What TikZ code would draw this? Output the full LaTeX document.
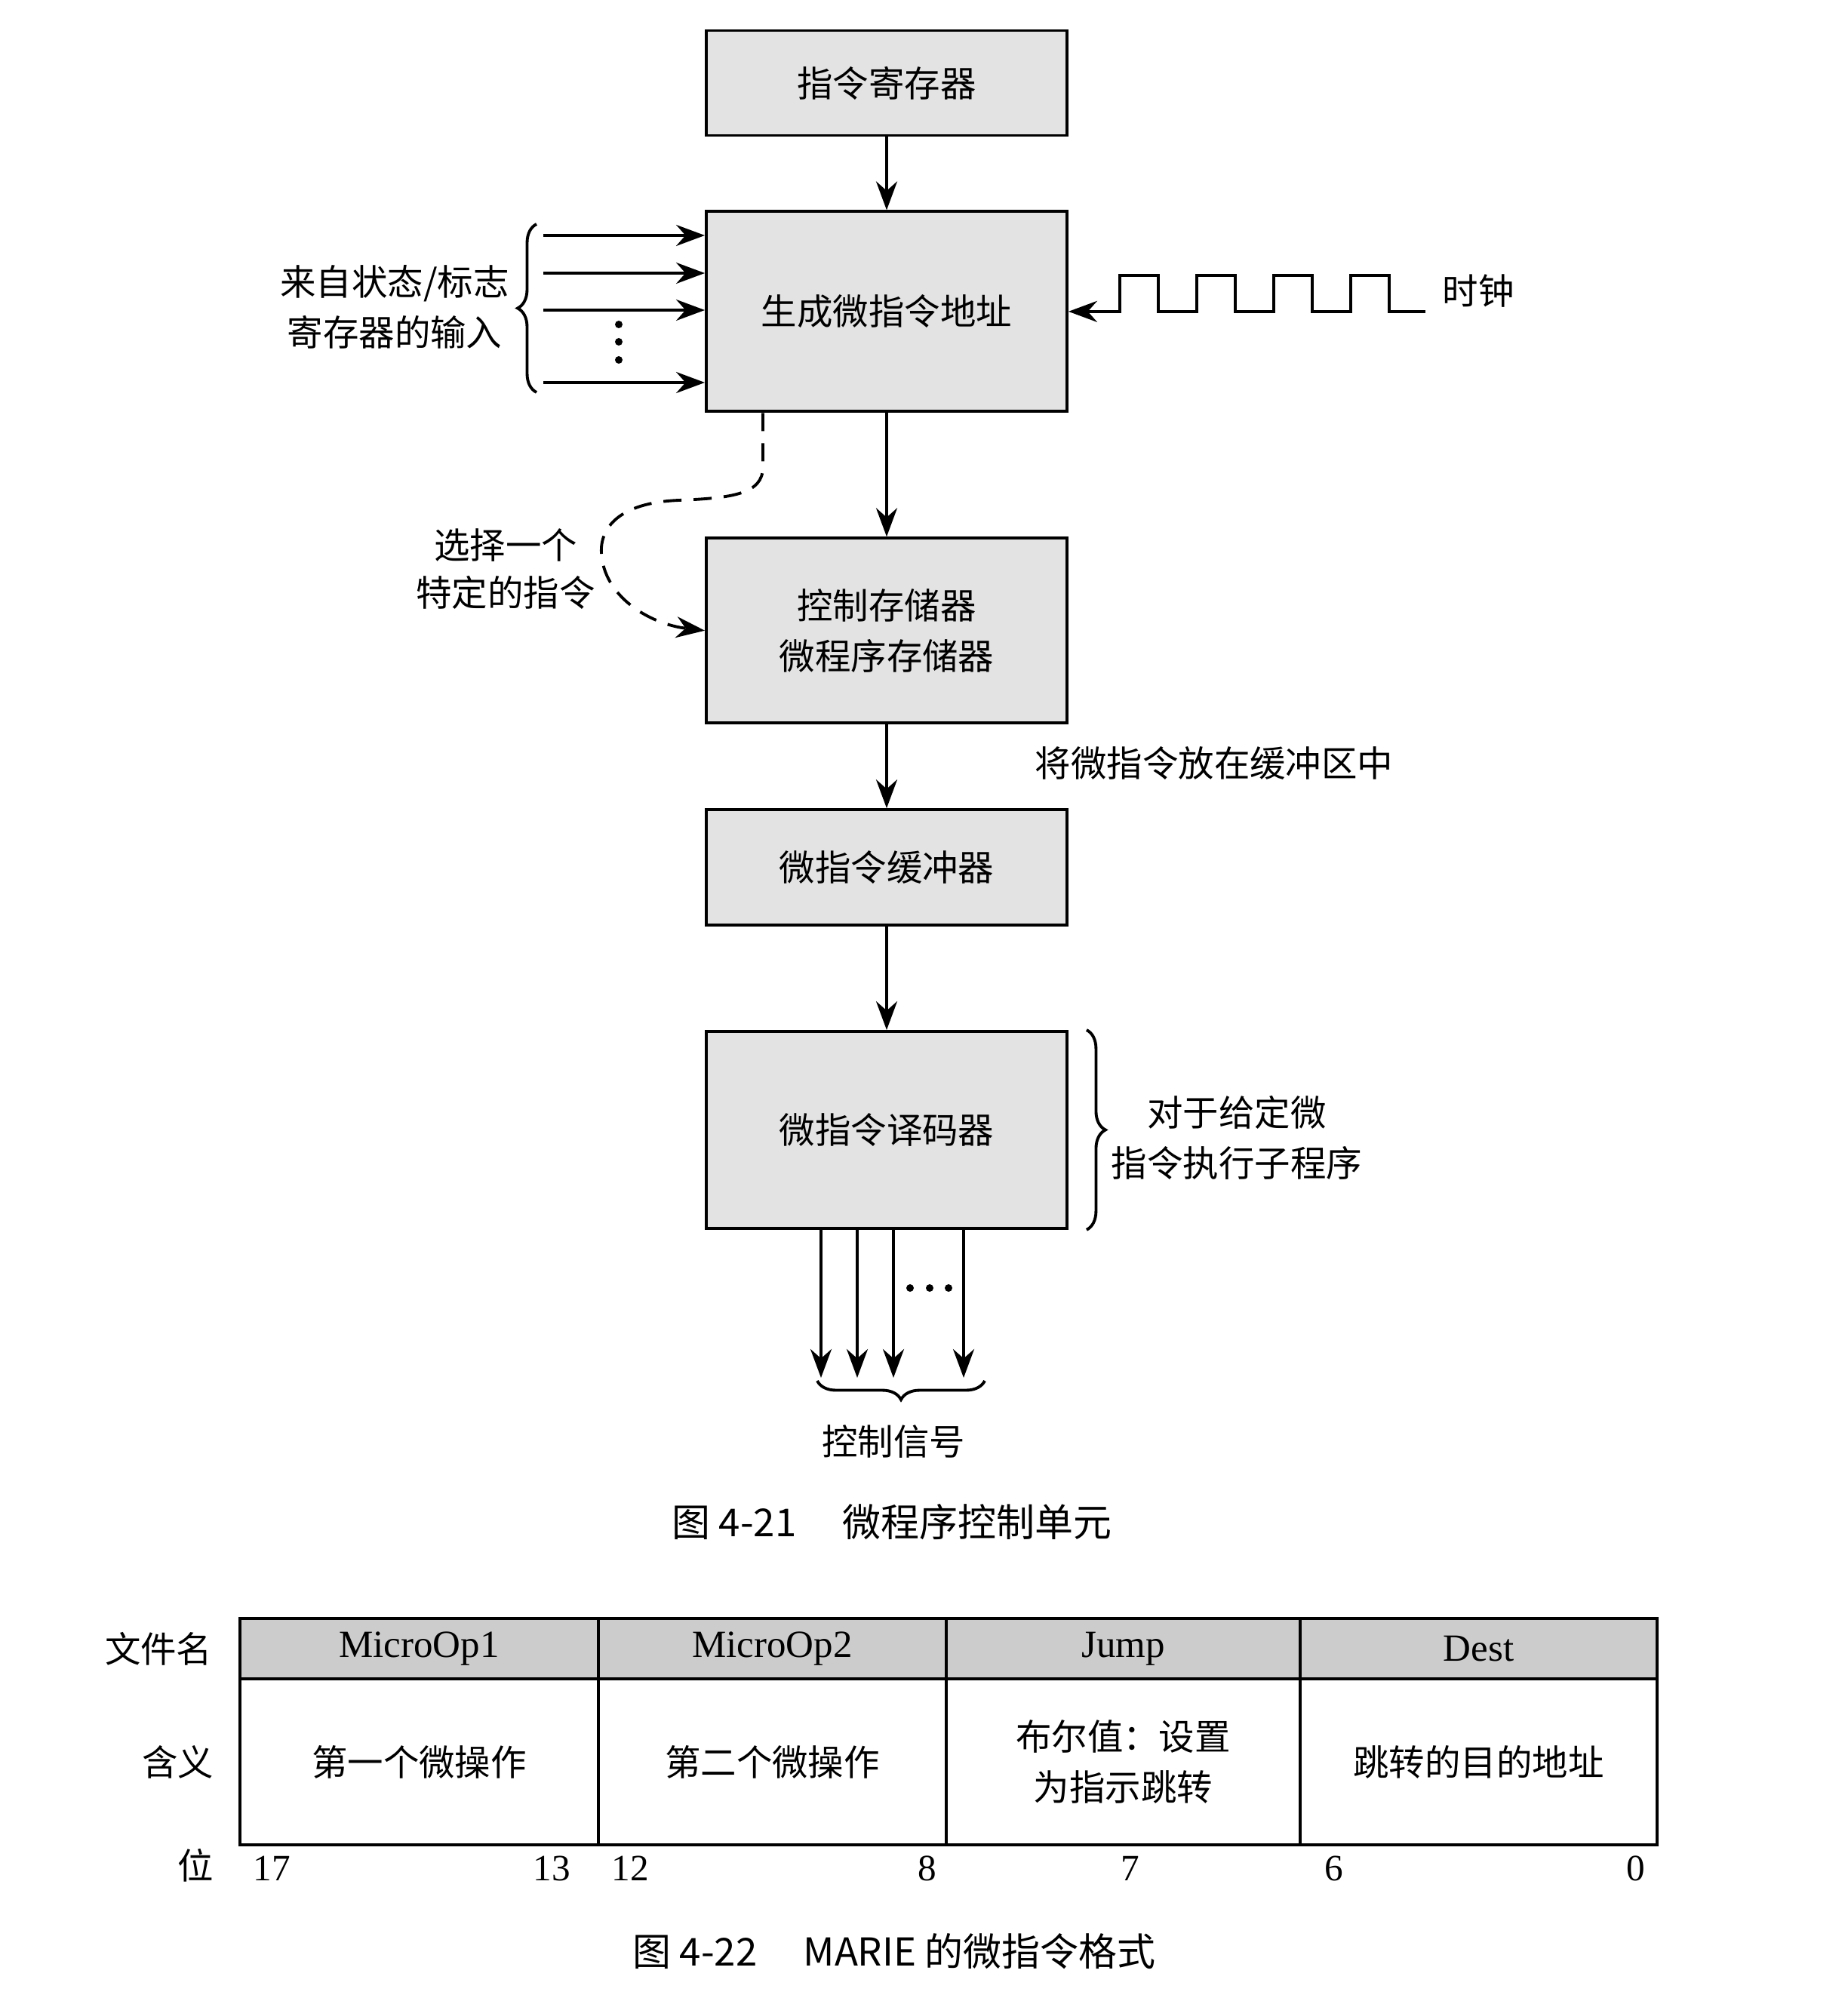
\documentclass[tikz,border=0pt]{standalone}
\usepackage{fontspec}
\setmainfont{Liberation Serif}
\newfontfamily\cjk{Noto Sans CJK SC}
\usepackage{tikz}
\usetikzlibrary{arrows.meta,positioning,decorations.pathreplacing}

\begin{document}
\begin{tikzpicture}[
    >={Stealth[length=3.8mm,width=2.8mm]},
    line width=1.1pt,
    font=\cjk\fontsize{13.5pt}{19pt}\selectfont,
    blk/.style={draw,fill=gray!22,minimum width=4.78cm,align=center},
    hcell/.style={draw,fill=gray!40,minimum height=0.8cm,outer sep=0pt,font=\rmfamily\fontsize{14.5pt}{16pt}\selectfont},
    bcell/.style={draw,minimum height=2.2cm,outer sep=0pt,align=center},
    bit/.style={font=\rmfamily\fontsize{14pt}{16pt}\selectfont},
    brc/.style={decorate,decoration={brace,amplitude=2.5mm}}
  ]
    \useasboundingbox (0,0) rectangle (24.48,-26.48);
    \node[blk,minimum height=1.39cm] (ir) at (11.75,-1.10) {指令寄存器};
    \node[blk,minimum height=2.65cm,below=0.97cm of ir] (gen) {生成微指令地址};
    \node[blk,minimum height=2.45cm,below=1.64cm of gen] (cs) {控制存储器\\微程序存储器};
    \node[blk,minimum height=1.53cm,below=1.11cm of cs] (buf) {微指令缓冲器};
    \node[blk,minimum height=2.61cm,below=1.37cm of buf] (dec) {微指令译码器};
    \draw[->] (ir)--(gen);
    \draw[->] (gen)--(cs);
    \draw[->] (cs)--(buf);
    \draw[->] (buf)--(dec);

    % inputs from status/flag registers
    \coordinate (in1) at (7.20,-3.12);
    \coordinate (in2) at (7.20,-3.62);
    \coordinate (in3) at (7.20,-4.11);
    \coordinate (in4) at (7.20,-5.07);
    \draw[->] (in1)--(in1 -| gen.west);
    \draw[->] (in2)--(in2 -| gen.west);
    \draw[->] (in3)--(in3 -| gen.west);
    \draw[->] (in4)--(in4 -| gen.west);
    \fill (8.20,-4.30) circle (0.05);
    \fill (8.20,-4.53) circle (0.05);
    \fill (8.20,-4.77) circle (0.05);
    \draw[brc] (7.11,-5.20)--(7.11,-2.97);
    \node[align=center] (inlbl) at (5.23,-4.07) {来自状态/标志\\寄存器的输入};

    % clock
    \coordinate (ck) at ([xshift=4.73cm]gen.east);
    \draw[->] (ck) -- ++(-0.48,0) -- ++(0,0.48) -- ++(-0.51,0) -- ++(0,-0.48)
      -- ++(-0.51,0) -- ++(0,0.48) -- ++(-0.51,0) -- ++(0,-0.48)
      -- ++(-0.51,0) -- ++(0,0.48) -- ++(-0.51,0) -- ++(0,-0.48)
      -- ++(-0.51,0) -- ++(0,0.48) -- ++(-0.51,0) -- ++(0,-0.48) -- (gen.east);
    \node[anchor=west] (clk) at (18.98,-3.86) {时钟};

    % selection path
    \draw[->,dash pattern=on 2.4mm off 1.6mm] ([xshift=-1.64cm]gen.south) -- (10.11,-6.19)
      .. controls (10.11,-6.55) and (9.7,-6.6) .. (9.0,-6.63)
      .. controls (8.2,-6.66) and (7.95,-7.0) .. (7.97,-7.33)
      .. controls (8.0,-7.9) and (8.6,-8.27) .. (cs.west);
    \node[align=center,font=\cjk\fontsize{13.5pt}{18pt}\selectfont] (sel) at (6.70,-7.54) {选择一个\\特定的指令};

    \node (put) at (16.09,-10.11) {将微指令放在缓冲区中};

    \draw[brc] ([xshift=0.24cm]dec.north east)--([xshift=0.24cm]dec.south east);
    \node[align=center] (sub) at (16.39,-15.08) {对于给定微\\指令执行子程序};

    % control signals
    \coordinate (s1) at (10.88,-18.26);
    \coordinate (s2) at (11.36,-18.26);
    \coordinate (s3) at (11.84,-18.26);
    \coordinate (s4) at (12.77,-18.26);
    \draw[->] (s1 |- dec.south)--(s1);
    \draw[->] (s2 |- dec.south)--(s2);
    \draw[->] (s3 |- dec.south)--(s3);
    \draw[->] (s4 |- dec.south)--(s4);
    \fill (12.06,-17.07) circle (0.05);
    \fill (12.32,-17.07) circle (0.05);
    \fill (12.57,-17.07) circle (0.05);
    \draw[brc] (13.05,-18.30)--(10.83,-18.30);
    \node (sig) at (11.84,-19.10) {控制信号};
    \node[font=\cjk\fontsize{14.5pt}{18pt}\selectfont] (cap1) at (11.82,-20.17) {图 4-21\hspace{1.2em}微程序控制单元};

    % microinstruction format
    \node[hcell,minimum width=4.75cm,anchor=north west] (h1) at (3.18,-21.45) {MicroOp1};
    \node[hcell,minimum width=4.61cm,right=0pt of h1] (h2) {MicroOp2};
    \node[hcell,minimum width=4.69cm,right=0pt of h2] (h3) {Jump};
    \node[hcell,minimum width=4.73cm,right=0pt of h3] (h4) {Dest};
    \node[bcell,minimum width=4.75cm,below=0pt of h1] (m1) {第一个微操作};
    \node[bcell,minimum width=4.61cm,below=0pt of h2] (m2) {第二个微操作};
    \node[bcell,minimum width=4.69cm,below=0pt of h3] (m3) {布尔值：设置\\为指示跳转};
    \node[bcell,minimum width=4.73cm,below=0pt of h4] (m4) {跳转的目的地址};
    \node[left=0.23cm of h1] (fn) {文件名};
    \node[left=0.21cm of m1] (mn) {含义};
    \node[anchor=east] (bn) at (2.97,-24.72) {位};
    \node[bit] (b17) at (3.60,-24.76) {17};
    \node[bit] (b13) at (7.31,-24.76) {13};
    \node[bit] (b12) at (8.35,-24.76) {12};
    \node[bit] (b8) at (12.29,-24.76) {8};
    \node[bit] (b7) at (14.98,-24.76) {7};
    \node[bit] (b6) at (17.68,-24.76) {6};
    \node[bit] (b0) at (21.68,-24.76) {0};
    \node[font=\cjk\fontsize{14.5pt}{18pt}\selectfont] (cap2) at (11.85,-25.86) {图 4-22\hspace{1.2em}MARIE 的微指令格式};
  \end{tikzpicture}
\end{document}
